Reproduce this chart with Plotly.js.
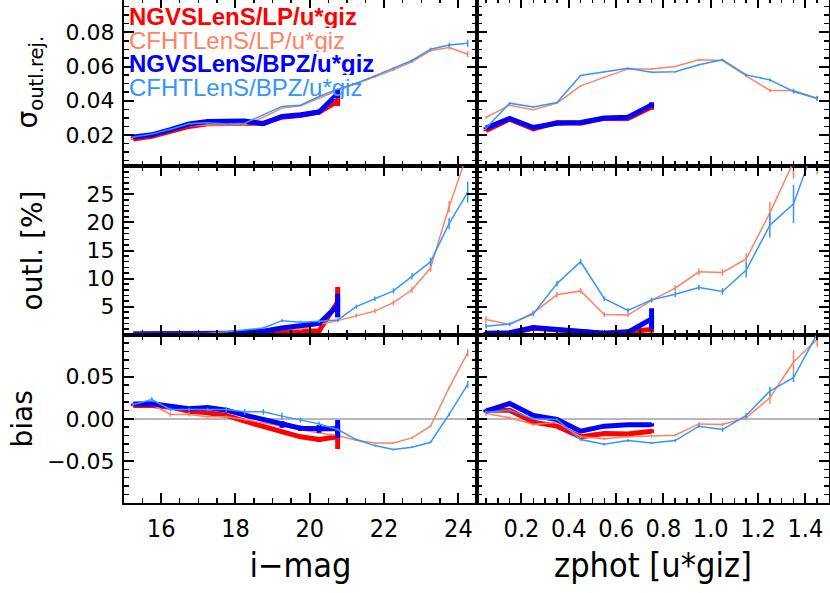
<!DOCTYPE html>
<html><head><meta charset="utf-8">
<script src="https://cdn.plot.ly/plotly-3.0.1.min.js"></script>
<style>html,body{margin:0;padding:0;overflow:hidden;background:#fff}
#chart{position:absolute;left:0;top:-2px;width:830px;height:595px}</style>
</head><body><div id="chart"></div>
<script>
// ---- bins ----
const magBins = [15.25,15.75,16.25,16.75,17.25,17.75,18.25,18.75,19.25,19.75,20.25,20.75,21.25,21.75,22.25,22.75,23.25,23.75,24.25];
const zBins = [0.05,0.15,0.25,0.35,0.45,0.55,0.65,0.75,0.85,0.95,1.05,1.15,1.25,1.35,1.45];

// ---- sigma_outl.rej. vs i-mag ----
const sigMag_ngvsLP  = [0.0176,0.0192,0.0221,0.0250,0.0266,0.0269,0.0273,0.0269,0.0304,0.0314,0.0334,0.0396];
const sigMag_ngvsBPZ = [0.0188,0.0201,0.0231,0.0264,0.0279,0.0283,0.0281,0.0266,0.0308,0.0318,0.0334,0.0441];
const sigMag_cfhtLP  = [0.0180,0.0196,0.0225,0.0254,0.0258,0.0258,0.0260,0.0304,0.0357,0.0370,0.0415,0.0460,0.0499,0.0538,0.0580,0.0627,0.0693,0.0711,0.0672];
const sigMag_cfhtBPZ = [0.0188,0.0205,0.0234,0.0266,0.0271,0.0264,0.0269,0.0318,0.0367,0.0374,0.0425,0.0468,0.0503,0.0545,0.0590,0.0635,0.0701,0.0726,0.0736];
const sigMagErr_ngvsLP  = [0.0004,0.0004,0.0004,0.0004,0.0004,0.0004,0.0004,0.0004,0.0005,0.0005,0.0006,0.0027];
const sigMagErr_ngvsBPZ = [0.0004,0.0004,0.0004,0.0004,0.0004,0.0004,0.0004,0.0004,0.0005,0.0005,0.0006,0.0024];
const sigMagErr_cfhtLP  = [0.0003,0.0003,0.0003,0.0003,0.0003,0.0003,0.0003,0.0003,0.0003,0.0003,0.0003,0.0003,0.0004,0.0005,0.0006,0.0007,0.0009,0.0012,0.0018];
const sigMagErr_cfhtBPZ = [0.0003,0.0003,0.0003,0.0003,0.0003,0.0003,0.0003,0.0003,0.0003,0.0003,0.0003,0.0003,0.0004,0.0005,0.0006,0.0007,0.0009,0.0012,0.0020];

// ---- sigma_outl.rej. vs zphot ----
const sigZ_ngvsLP  = [0.0227,0.0293,0.0236,0.0273,0.0269,0.0297,0.0297,0.0363];
const sigZ_ngvsBPZ = [0.0240,0.0297,0.0244,0.0269,0.0273,0.0299,0.0304,0.0376];
const sigZ_cfhtLP  = [0.0302,0.0374,0.0347,0.0386,0.0487,0.0538,0.0586,0.0586,0.0600,0.0639,0.0635,0.0545,0.0460,0.0460,0.0415];
const sigZ_cfhtBPZ = [0.0240,0.0386,0.0363,0.0390,0.0547,0.0569,0.0590,0.0567,0.0569,0.0610,0.0639,0.0551,0.0522,0.0454,0.0413];
const sigZErr_ngvsLP  = [0.0005,0.0005,0.0004,0.0004,0.0004,0.0005,0.0006,0.0015];
const sigZErr_ngvsBPZ = [0.0005,0.0005,0.0004,0.0004,0.0004,0.0005,0.0006,0.0015];
const sigZErr_cfhtLP  = [0.0006,0.0005,0.0004,0.0004,0.0004,0.0004,0.0004,0.0004,0.0005,0.0006,0.0006,0.0008,0.0010,0.0012,0.0014];
const sigZErr_cfhtBPZ = [0.0006,0.0005,0.0004,0.0004,0.0004,0.0004,0.0004,0.0004,0.0005,0.0006,0.0006,0.0008,0.0010,0.0012,0.0015];

// ---- outlier fraction [%] vs i-mag ----
const outMag_ngvsLP  = [0.1,0.1,0.1,0.1,0.1,0.2,0.3,0.35,0.6,0.65,0.7,5.8];
const outMag_ngvsBPZ = [0.1,0.1,0.1,0.1,0.1,0.2,0.4,0.6,1.2,1.5,2.0,5.2];
const outMag_cfhtLP  = [0.1,0.1,0.1,0.1,0.1,0.3,0.5,0.8,0.9,0.95,1.8,2.5,3.4,4.2,5.7,8.0,11.9,22.8,32.5];
const outMag_cfhtBPZ = [0.2,0.25,0.2,0.2,0.25,0.5,0.9,1.2,2.5,2.2,2.4,2.6,5.0,6.4,7.8,10.4,13.0,19.8,25.4];
const outMagErr_ngvsLP  = [0.05,0.05,0.05,0.05,0.05,0.1,0.1,0.15,0.2,0.2,0.25,2.7];
const outMagErr_ngvsBPZ = [0.05,0.05,0.05,0.05,0.05,0.1,0.1,0.15,0.25,0.25,0.3,2.1];
const outMagErr_cfhtLP  = [0.05,0.05,0.05,0.05,0.05,0.1,0.1,0.15,0.2,0.2,0.3,0.3,0.35,0.4,0.45,0.55,0.7,1.0,1.6];
const outMagErr_cfhtBPZ = [0.05,0.05,0.05,0.05,0.05,0.1,0.15,0.2,0.3,0.3,0.3,0.3,0.35,0.4,0.45,0.55,0.7,1.0,1.9];

// ---- outlier fraction [%] vs zphot ----
const outZ_ngvsLP  = [0.15,0.2,1.15,0.86,0.44,0.27,0.56,0.9];
const outZ_ngvsBPZ = [0.27,0.33,1.27,0.92,0.44,0.27,0.44,2.8];
const outZ_cfhtLP  = [2.7,1.8,3.9,7.1,7.8,3.6,3.5,6.1,8.3,11.2,11.1,13.5,21.7,30.8,33.0];
const outZ_cfhtBPZ = [1.5,1.9,3.7,9.1,13.0,6.4,4.3,6.2,7.2,8.4,7.7,11.5,19.5,23.3,35.0];
const outZErr_ngvsLP  = [0.2,0.2,0.3,0.25,0.2,0.15,0.2,0.5];
const outZErr_ngvsBPZ = [0.2,0.2,0.3,0.25,0.2,0.15,0.2,1.9];
const outZErr_cfhtLP  = [0.6,0.3,0.4,0.5,0.5,0.4,0.4,0.4,0.5,0.6,0.6,1.0,2.0,3.0,4.5];
const outZErr_cfhtBPZ = [0.4,0.3,0.4,0.5,0.5,0.4,0.4,0.4,0.5,0.5,0.6,1.3,2.2,3.4,4.0];

// ---- bias vs i-mag ----
const biasMag_ngvsLP  = [0.0159,0.0159,0.0139,0.0091,0.0071,0.0040,-0.0028,-0.0087,-0.0155,-0.0214,-0.0246,-0.0214];
const biasMag_ngvsBPZ = [0.0175,0.0179,0.0151,0.0119,0.0135,0.0103,0.0044,-0.0008,-0.0067,-0.0111,-0.0119,-0.0119];
const biasMag_cfhtLP  = [0.0159,0.0170,0.0052,0.0052,0.0024,0.0024,-0.0008,-0.0048,-0.0095,-0.0135,-0.0167,-0.0199,-0.0254,-0.0286,-0.0286,-0.0226,-0.0087,0.0369,0.0786];
const biasMag_cfhtBPZ = [0.0170,0.0230,0.0111,0.0111,0.0111,0.0111,0.0083,0.0083,0.0032,-0.0016,-0.0060,-0.0127,-0.0246,-0.0318,-0.0365,-0.0337,-0.0278,0.0052,0.0409];
const biasMagErr_ngvsLP  = [0.0008,0.0008,0.0008,0.0008,0.0008,0.0010,0.0012,0.0015,0.0020,0.0025,0.0030,0.0145];
const biasMagErr_ngvsBPZ = [0.0008,0.0008,0.0008,0.0008,0.0008,0.0010,0.0015,0.0020,0.0040,0.0030,0.0045,0.0105];
const biasMagErr_cfhtLP  = [0.0010,0.0015,0.0025,0.0025,0.0020,0.0015,0.0012,0.0012,0.0012,0.0012,0.0012,0.0012,0.0010,0.0010,0.0010,0.0010,0.0012,0.0015,0.0045];
const biasMagErr_cfhtBPZ = [0.0010,0.0025,0.0020,0.0020,0.0020,0.0030,0.0035,0.0035,0.0040,0.0030,0.0025,0.0015,0.0010,0.0010,0.0010,0.0010,0.0012,0.0020,0.0040];

// ---- bias vs zphot ----
const biasZ_ngvsLP  = [0.0103,0.0103,-0.0040,-0.0087,-0.0214,-0.0175,-0.0179,-0.0147];
const biasZ_ngvsBPZ = [0.0091,0.0183,0.0040,-0.0008,-0.0147,-0.0087,-0.0071,-0.0071];
const biasZ_cfhtLP  = [0.0064,0.0012,-0.0067,-0.0040,-0.0214,-0.0238,-0.0214,-0.0206,-0.0195,-0.0060,-0.0067,0.0012,0.0250,0.0675,0.0945];
const biasZ_cfhtBPZ = [0.0079,0.0103,0.0000,-0.0008,-0.0246,-0.0302,-0.0258,-0.0286,-0.0258,-0.0087,-0.0127,0.0040,0.0330,0.0488,0.1010];
const biasZErr_ngvsLP  = [0.0012,0.0010,0.0010,0.0010,0.0010,0.0010,0.0010,0.0022];
const biasZErr_ngvsBPZ = [0.0015,0.0010,0.0010,0.0010,0.0010,0.0010,0.0010,0.0020];
const biasZErr_cfhtLP  = [0.0030,0.0015,0.0015,0.0015,0.0015,0.0015,0.0015,0.0015,0.0015,0.0020,0.0020,0.0030,0.0070,0.0140,0.0090];
const biasZErr_cfhtBPZ = [0.0020,0.0015,0.0015,0.0015,0.0015,0.0015,0.0015,0.0015,0.0015,0.0020,0.0025,0.0030,0.0050,0.0050,0.0050];

// ---- labels ----
const seriesNames = ['NGVSLenS/LP/u*giz','CFHTLenS/LP/u*giz','NGVSLenS/BPZ/u*giz','CFHTLenS/BPZ/u*giz'];
const legendTexts = ['<b>NGVSLenS/LP/u*giz</b>','CFHTLenS/LP/u*giz','<b>NGVSLenS/BPZ/u*giz</b>','CFHTLenS/BPZ/u*giz'];
const yTitles = ['σ<sub>outl.rej.</sub>','outl. [%]','bias'];
const xTitles = ['i−mag','zphot [u*giz]'];

// ---- styling ----
const RED='#ff0000', SALMON='#ff8264', BLUE='#0000ff', LBLUE='#3296ff';
const colors=[RED,SALMON,BLUE,LBLUE];
const widths=[5,1.5,5,1.5];
const YFONT='DejaVu Sans, Liberation Sans, sans-serif';
const XFONT='DejaVu Sans Condensed, Liberation Sans Narrow, DejaVu Sans, sans-serif';

function tr(x,y,err,k,xa,ya){
  return {type:'scatter',mode:'lines',x:x.slice(0,y.length),y:y,name:seriesNames[k],
    xaxis:xa,yaxis:ya,showlegend:false,hoverinfo:'skip',
    line:{color:colors[k],width:widths[k]},
    error_y:{type:'data',array:err,visible:true,color:colors[k],thickness:widths[k],width:0}};
}
const panels=[
  ['x','y',magBins,[sigMag_ngvsLP,sigMag_cfhtLP,sigMag_ngvsBPZ,sigMag_cfhtBPZ],[sigMagErr_ngvsLP,sigMagErr_cfhtLP,sigMagErr_ngvsBPZ,sigMagErr_cfhtBPZ]],
  ['x2','y2',zBins,[sigZ_ngvsLP,sigZ_cfhtLP,sigZ_ngvsBPZ,sigZ_cfhtBPZ],[sigZErr_ngvsLP,sigZErr_cfhtLP,sigZErr_ngvsBPZ,sigZErr_cfhtBPZ]],
  ['x3','y3',magBins,[outMag_ngvsLP,outMag_cfhtLP,outMag_ngvsBPZ,outMag_cfhtBPZ],[outMagErr_ngvsLP,outMagErr_cfhtLP,outMagErr_ngvsBPZ,outMagErr_cfhtBPZ]],
  ['x4','y4',zBins,[outZ_ngvsLP,outZ_cfhtLP,outZ_ngvsBPZ,outZ_cfhtBPZ],[outZErr_ngvsLP,outZErr_cfhtLP,outZErr_ngvsBPZ,outZErr_cfhtBPZ]],
  ['x5','y5',magBins,[biasMag_ngvsLP,biasMag_cfhtLP,biasMag_ngvsBPZ,biasMag_cfhtBPZ],[biasMagErr_ngvsLP,biasMagErr_cfhtLP,biasMagErr_ngvsBPZ,biasMagErr_cfhtBPZ]],
  ['x6','y6',zBins,[biasZ_ngvsLP,biasZ_cfhtLP,biasZ_ngvsBPZ,biasZ_cfhtBPZ],[biasZErr_ngvsLP,biasZErr_cfhtLP,biasZErr_ngvsBPZ,biasZErr_cfhtBPZ]]
];
const data=[];
panels.forEach(p=>{ for(let k=0;k<4;k++) data.push(tr(p[2],p[3][k],p[4][k],k,p[0],p[1])); });

const base={showline:true,linecolor:'black',linewidth:2,mirror:'ticks',ticks:'inside',ticklen:10,tickwidth:2,tickcolor:'black',
  showgrid:false,zeroline:false,fixedrange:true};
const XSPLIT=353/705;
const colDom=[[0,XSPLIT],[XSPLIT,1]];
const rowDom=[[2/3,1],[1/3,2/3],[0,1/3]];
function sfx(n){return n===1?'':String(n);}
function xax(col,row){
  const isMag=col===0;
  const n=row*2+col+1;
  const a=Object.assign({},base,{domain:colDom[col],anchor:'y'+sfx(n),
    range:isMag?[15,24.5]:[0.012,1.5],tickmode:'linear',tick0:0,dtick:isMag?2:0.2,tickformat:isMag?'d':'.1f',
    minor:{ticks:'inside',ticklen:5,tickwidth:1.5,tickcolor:'black',dtick:isMag?0.5:0.05,tick0:0,showgrid:false},
    showticklabels:row===2,tickfont:{family:XFONT,size:25,color:'black'},ticklabelstandoff:2});
  if(row===2) a.title={text:xTitles[col],font:{family:XFONT,size:34,color:'black'},standoff:11};
  return a;
}
const yRanges=[[0.0017,0.1],[0,30],[-0.1,0.1]];
const yTicks=[[0.02,0.04,0.06,0.08],[5,10,15,20,25],[-0.05,0,0.05]];
const yFmt=['.2f','d','.2f'];
const yMinor=[0.005,1,0.01];
const yStand=[20,36,6];
function yax(col,row){
  const n=row*2+col+1;
  const a=Object.assign({},base,{domain:rowDom[row],anchor:'x'+sfx(n),range:yRanges[row],
    tickmode:'array',tickvals:yTicks[row],tickformat:yFmt[row],
    minor:{ticks:'inside',ticklen:5,tickwidth:1.5,tickcolor:'black',dtick:yMinor[row],tick0:0,showgrid:false},
    showticklabels:col===0,tickfont:{family:YFONT,size:22,color:'black'},ticklabelstandoff:3});
  if(row===2){a.zeroline=true;a.zerolinecolor='#b8b8b8';a.zerolinewidth=1.5;}
  if(col===0) a.title={text:yTitles[row],font:{family:YFONT,size:28,color:'black'},standoff:yStand[row]};
  return a;
}
const layout={width:830,height:595,margin:{l:124,r:1,t:0,b:90},paper_bgcolor:'white',plot_bgcolor:'white',showlegend:false,annotations:[]};
for(let row=0;row<3;row++) for(let col=0;col<2;col++){
  const n=row*2+col+1;
  layout['xaxis'+sfx(n)]=xax(col,row); layout['yaxis'+sfx(n)]=yax(col,row);
}
const legY=[16.5,40.5,63.5,87];
legendTexts.forEach((t,k)=>{
  layout.annotations.push({text:t,xref:'paper',yref:'paper',x:(128-124)/705,y:(503-legY[k])/505,xanchor:'left',yanchor:'middle',
    height:23,borderpad:0,valign:'middle',
    showarrow:false,font:{family:'Liberation Sans, Arial, sans-serif',size:24,color:colors[k]}});
});
Plotly.newPlot('chart',data,layout,{staticPlot:true,displayModeBar:false});
</script></body></html>
